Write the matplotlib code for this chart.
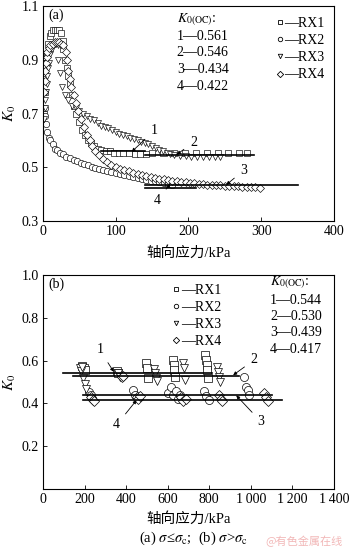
import matplotlib
matplotlib.use("Agg")
import matplotlib.pyplot as plt
from matplotlib.lines import Line2D

plt.rcParams['font.family'] = ['Liberation Serif', 'Noto Sans CJK SC']
plt.rcParams['mathtext.fontset'] = 'stix'

# (a) sigma <= sigma_c
rx1_a_x = [1, 2, 3, 5, 7, 9, 11, 13, 16, 19, 22, 25, 27, 28, 30, 33, 35, 37, 40, 43, 46, 50, 54,
           58, 62, 66, 70, 75, 80, 86, 92, 98, 104, 110, 118, 126, 134, 142, 150, 165, 180,
           195, 210, 225, 240, 255, 270, 280]
rx1_a_y = [0.70, 0.78, 0.85, 0.92, 0.96, 0.99, 1.00, 1.01, 1.01, 1.01, 1.01, 1.00, 0.97, 0.94,
           0.90, 0.87, 0.84, 0.81, 0.77, 0.73, 0.70, 0.67, 0.64, 0.62, 0.60, 0.59, 0.58, 0.57,
           0.565, 0.56, 0.56, 0.555, 0.555, 0.555, 0.555, 0.55, 0.55, 0.55, 0.552, 0.553, 0.552,
           0.553, 0.552, 0.553, 0.552, 0.553, 0.552, 0.553]
rx2_a_x = [2, 3, 4, 6, 8, 10, 13, 16, 19, 23, 27, 32, 37, 42, 47, 52, 57, 62, 67, 72, 77, 82, 88,
           94, 100, 106, 112, 118, 124, 130, 136, 142, 148, 154, 160, 166, 172, 178]
rx2_a_y = [0.72, 0.69, 0.66, 0.63, 0.61, 0.60, 0.585, 0.57, 0.563, 0.555, 0.548, 0.54, 0.535,
           0.528, 0.522, 0.517, 0.512, 0.507, 0.503, 0.499, 0.495, 0.491, 0.487, 0.483, 0.479,
           0.475, 0.471, 0.467, 0.463, 0.46, 0.457, 0.454, 0.451, 0.448, 0.445, 0.442, 0.439,
           0.436]
rx3_a_x = [1, 2, 3, 4, 5, 6, 7, 8, 10, 12, 14, 16, 18, 20, 21, 23, 26, 30, 35, 40, 45, 50, 55, 60,
           65, 70, 75, 80, 85, 90, 95, 100, 105, 110, 115, 120, 125, 130, 135, 140, 145, 150, 155,
           160, 165, 170, 175, 180, 188, 196, 204, 212, 220, 228, 236, 244]
rx3_a_y = [0.68, 0.72, 0.75, 0.78, 0.81, 0.84, 0.87, 0.89, 0.92, 0.94, 0.955, 0.96, 0.96, 0.955,
           0.90, 0.85, 0.80, 0.77, 0.75, 0.73, 0.72, 0.71, 0.70, 0.69, 0.68, 0.675, 0.665, 0.655,
           0.65, 0.645, 0.64, 0.63, 0.625, 0.62, 0.615, 0.61, 0.605, 0.60, 0.595, 0.59, 0.585,
           0.578, 0.572, 0.566, 0.56, 0.555, 0.55, 0.547, 0.543, 0.541, 0.54, 0.54, 0.54, 0.54,
           0.54, 0.54]
rx4_a_x = [1, 2, 3, 4, 5, 6, 8, 10, 13, 16, 19, 22, 25, 28, 31, 33, 35, 37, 39, 42, 45, 48, 52, 56,
           60, 64, 68, 72, 77, 82, 88, 94, 100, 106, 112, 118, 124, 130, 136, 142, 148, 154, 160,
           166, 172, 178, 184, 190, 196, 202, 208, 214, 220, 226, 232, 238, 244, 250, 256, 262,
           268, 274, 280, 286, 292, 298]
rx4_a_y = [0.78, 0.82, 0.86, 0.89, 0.91, 0.93, 0.945, 0.955, 0.96, 0.965, 0.965, 0.965, 0.96,
           0.955, 0.93, 0.90, 0.86, 0.83, 0.80, 0.77, 0.74, 0.71, 0.68, 0.65, 0.62, 0.60, 0.58,
           0.56, 0.545, 0.53, 0.52, 0.51, 0.50, 0.495, 0.49, 0.485, 0.48, 0.475, 0.47, 0.467,
           0.464, 0.461, 0.458, 0.455, 0.452, 0.45, 0.448, 0.446, 0.444, 0.442, 0.44, 0.438,
           0.437, 0.436, 0.435, 0.434, 0.433, 0.432, 0.431, 0.43, 0.429, 0.428, 0.427, 0.426,
           0.425, 0.424]
k0_a = [0.561, 0.546, 0.434, 0.422]
k0_a_start = [80, 140, 140, 140]
k0_a_end = [140, 290, 350, 210]

# (b) sigma > sigma_c
rx1_b_x = [188, 195, 200, 355, 362, 495, 500, 505, 625, 630, 632, 635, 780, 785, 788, 790, 792]
rx1_b_y = [0.575, 0.565, 0.556, 0.55, 0.54, 0.589, 0.565, 0.519, 0.603, 0.579, 0.556, 0.523,
           0.626, 0.603, 0.579, 0.556, 0.519]
rx2_b_x = [222, 230, 435, 445, 600, 615, 625, 640, 650, 660, 775, 785, 800, 965, 975, 985, 990]
rx2_b_y = [0.453, 0.44, 0.463, 0.439, 0.45, 0.477, 0.44, 0.46, 0.42, 0.44, 0.46, 0.435, 0.415,
           0.523, 0.477, 0.463, 0.44]
rx3_b_x = [177, 182, 187, 192, 201, 208, 360, 370, 535, 540, 545, 550, 675, 680, 685, 838, 843,
           848, 852]
rx3_b_y = [0.565, 0.55, 0.57, 0.52, 0.49, 0.465, 0.54, 0.525, 0.56, 0.542, 0.519, 0.505, 0.589,
           0.565, 0.511, 0.57, 0.547, 0.523, 0.50]
rx4_b_x = [232, 240, 245, 378, 383, 450, 458, 465, 665, 675, 690, 845, 855, 862, 1065, 1075,
           1085]
rx4_b_y = [0.43, 0.415, 0.41, 0.523, 0.53, 0.43, 0.42, 0.435, 0.43, 0.41, 0.42, 0.44, 0.42, 0.41,
           0.45, 0.43, 0.41]
k0_b = [0.544, 0.530, 0.439, 0.417]
k0_b_start = [97, 145, 192, 192]
k0_b_end = [815, 945, 1103, 1150]

markers = ['s', 'o', 'v', 'D']
names = ['RX1', 'RX2', 'RX3', 'RX4']

fig = plt.figure(figsize=(3.5, 5.5), dpi=100)
ax1 = fig.add_axes([0.123, 0.598, 0.831, 0.391])
ax2 = fig.add_axes([0.123, 0.111, 0.831, 0.389])


def style_axis(ax):
    for s in ax.spines.values():
        s.set_linewidth(0.8)
    ax.tick_params(direction='in', length=3, width=0.6, labelsize=10, pad=3)


# ---- (a) ----
series_a = [(rx1_a_x, rx1_a_y), (rx2_a_x, rx2_a_y), (rx3_a_x, rx3_a_y), (rx4_a_x, rx4_a_y)]
sizes_a = [4.6, 4.6, 4.8, 3.8]
for (xs, ys), m, ms in zip(series_a, markers, sizes_a):
    ax1.plot(xs, ys, ls='none', marker=m, ms=ms, mfc='white', mec='k', mew=0.45)
for k, x0, x1 in zip(k0_a, k0_a_start, k0_a_end):
    ax1.plot([x0, x1], [k, k], color='k', lw=1.2)

ax1.set_xlim(0, 400)
ax1.set_ylim(0.3, 1.1)
ax1.set_xticks([0, 100, 200, 300, 400])
ax1.set_yticks([0.3, 0.5, 0.7, 0.9, 1.1])
ax1.set_yticklabels(['0.3', '0.5', '0.7', '0.9', '1.1'])
style_axis(ax1)
ax1.set_xlabel('轴向应力/kPa', fontsize=10.5)
ax1.xaxis.set_label_coords(0.5, -0.115)
ax1.set_ylabel(r'$K_0$', fontsize=11)
ax1.yaxis.set_label_coords(-0.086, 0.5)

arr = dict(arrowstyle='-|>', lw=0.6, color='k', mutation_scale=5, shrinkA=3, shrinkB=0)
ax1.annotate('1', xy=(122, 0.558), xytext=(153, 0.637), fontsize=10, ha='center', va='center', arrowprops=arr)
ax1.annotate('2', xy=(184, 0.548), xytext=(207, 0.593), fontsize=10, ha='center', va='center', arrowprops=arr)
ax1.annotate('3', xy=(252, 0.435), xytext=(276, 0.489), fontsize=10, ha='center', va='center', arrowprops=arr)
ax1.annotate('4', xy=(175, 0.438), xytext=(157, 0.378), fontsize=10, ha='center', va='center', arrowprops=arr)

ax1.text(0.017, 0.958, '(a)', transform=ax1.transAxes, fontsize=10, va='center')
lab_a = [r'$K_{0\mathrm{(OC)}}$:'] + ['%d\u2014%.3f' % (i + 1, k) for i, k in enumerate(k0_a)]
for lab, yy in zip(lab_a, [0.935, 0.860, 0.786, 0.707, 0.628]):
    ax1.text(0.46, yy, lab, transform=ax1.transAxes, fontsize=10, va='center')

handles = [Line2D([], [], ls='none', marker=m, ms=3.2, mfc='white', mec='k', mew=0.6) for m in markers]
ax1.legend(handles, ['\u2014' + n for n in names], loc='upper left', bbox_to_anchor=(0.775, 0.985),
           frameon=False, fontsize=10, handlelength=0.5, handletextpad=0.1, labelspacing=0.3,
           borderpad=0.25, borderaxespad=0.3)

# ---- (b) ----
series_b = [(rx1_b_x, rx1_b_y), (rx2_b_x, rx2_b_y), (rx3_b_x, rx3_b_y), (rx4_b_x, rx4_b_y)]
sizes_b = [5.5, 5.8, 5.8, 4.8]
for (xs, ys), m, ms in zip(series_b, markers, sizes_b):
    ax2.plot(xs, ys, ls='none', marker=m, ms=ms, mfc='white', mec='k', mew=0.5)
for k, x0, x1 in zip(k0_b, k0_b_start, k0_b_end):
    ax2.plot([x0, x1], [k, k], color='k', lw=1.2)

ax2.set_xlim(0, 1400)
ax2.set_ylim(0, 1.0)
ax2.set_xticks([0, 200, 400, 600, 800, 1000, 1200, 1400])
ax2.set_xticklabels(['0', '200', '400', '600', '800', '1\u2009000', '1\u2009200', '1\u2009400'])
ax2.set_yticks([0.2, 0.4, 0.6, 0.8, 1.0])
ax2.set_yticklabels(['0.2', '0.4', '0.6', '0.8', '1.0'])
style_axis(ax2)
ax2.set_xlabel('轴向应力/kPa', fontsize=10.5)
ax2.xaxis.set_label_coords(0.5, -0.11)
ax2.set_ylabel(r'$K_0$', fontsize=11)
ax2.yaxis.set_label_coords(-0.086, 0.5)

ax2.annotate('1', xy=(340, 0.548), xytext=(273, 0.65), fontsize=10, ha='center', va='center', arrowprops=arr)
ax2.annotate('2', xy=(915, 0.532), xytext=(1016, 0.603), fontsize=10, ha='center', va='center', arrowprops=arr)
ax2.annotate('3', xy=(930, 0.437), xytext=(1050, 0.313), fontsize=10, ha='center', va='center', arrowprops=arr)
ax2.annotate('4', xy=(450, 0.415), xytext=(354, 0.299), fontsize=10, ha='center', va='center', arrowprops=arr)

ax2.text(0.017, 0.958, '(b)', transform=ax2.transAxes, fontsize=10, va='center')
lab_b = [r'$K_{0\mathrm{(OC)}}$:'] + ['%d\u2014%.3f' % (i + 1, k) for i, k in enumerate(k0_b)]
for lab, yy in zip(lab_b, [0.963, 0.883, 0.808, 0.729, 0.65]):
    ax2.text(0.78, yy, lab, transform=ax2.transAxes, fontsize=10, va='center')

ax2.legend(handles, ['\u2014' + n for n in names], loc='upper left', bbox_to_anchor=(0.42, 0.995),
           frameon=False, fontsize=10, handlelength=0.5, handletextpad=0.1, labelspacing=0.3,
           borderpad=0.25, borderaxespad=0.3)

fig.text(0.554, 0.021, r'(a) $\sigma$≤$\sigma_{\mathrm{c}}$;  (b) $\sigma$>$\sigma_{\mathrm{c}}$',
         ha='center', va='center', fontsize=10.5)
fig.text(0.98, 0.016, '@有色金属在线', ha='right', va='center', fontsize=8, color='#f2b8b8',
         family=['Noto Sans CJK SC'])

fig.savefig('out.png', dpi=100)
